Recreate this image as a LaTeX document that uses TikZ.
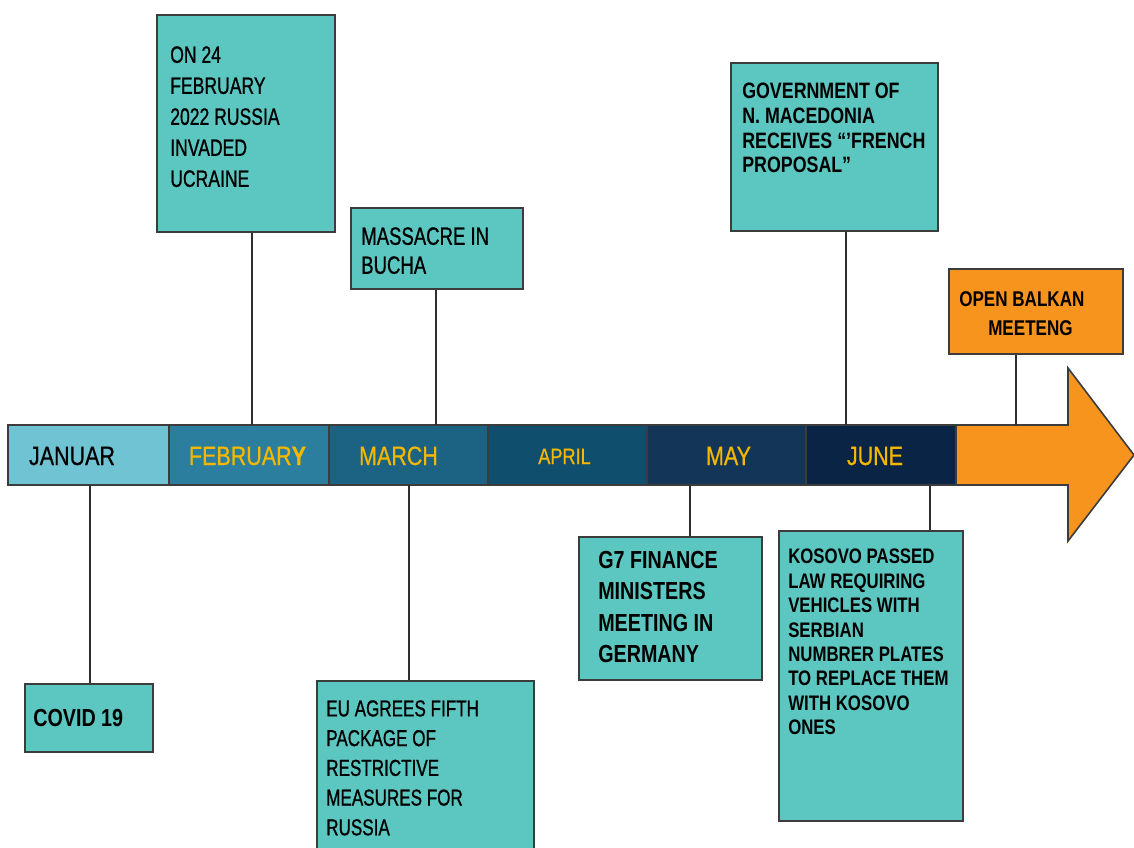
\documentclass[tikz,border=0pt]{standalone}
\usepackage{fontspec}
\newfontfamily\fr[FakeStretch=0.74,FakeBold=0.8]{Liberation Sans}
\newfontfamily\fb[FakeStretch=0.80]{Liberation Sans}
\newfontfamily\fm[FakeStretch=0.81,FakeBold=0.6]{Liberation Sans}
\usetikzlibrary{fit}
\definecolor{tealbox}{HTML}{5CC6C0}
\definecolor{edge}{HTML}{3C3C3C}
\definecolor{lineclr}{HTML}{2E2E2E}
\definecolor{cjan}{HTML}{70C3D3}
\definecolor{cfeb}{HTML}{2B7E9D}
\definecolor{cmar}{HTML}{1C6282}
\definecolor{capr}{HTML}{0F4E6C}
\definecolor{cmay}{HTML}{133557}
\definecolor{cjun}{HTML}{0A2446}
\definecolor{orng}{HTML}{F7941E}
\definecolor{gold}{HTML}{F6B700}
\begin{document}
\begin{tikzpicture}[x=0.75pt,y=-0.75pt,
  box/.style={draw=edge, line width=1.5pt, fill=tealbox, inner sep=0pt},
  obox/.style={box, fill=orng},
  seg/.style={draw=edge, line width=1.2pt, inner sep=0pt},
  conn/.style={draw=lineclr, line width=1.2pt},
  txt/.style={anchor=north west, inner sep=0pt, align=left, text=black},
  mon/.style={anchor=base, inner sep=0pt, text=gold, font=\fm\fontsize{19.9}{24}\selectfont}
]
\useasboundingbox (0,0) rectangle (1134,847);

% timeline segments
\node[seg, fill=cjan, fit={(8,425) (169,485)}] (jan) {};
\node[seg, fill=cfeb, fit={(169,425) (329,485)}] (feb) {};
\node[seg, fill=cmar, fit={(329,425) (488,485)}] (mar) {};
\node[seg, fill=capr, fit={(488,425) (647,485)}] (apr) {};
\node[seg, fill=cmay, fit={(647,425) (806,485)}] (may) {};
\node[seg, fill=cjun, fit={(806,425) (956,485)}] (jun) {};
\draw[draw=edge, line width=1.2pt, fill=orng] (956,425) -- (1068,425) -- (1068,368) -- (1134,455) -- (1068,541) -- (1068,485) -- (956,485) -- cycle;

\node[mon, text=black] (tjan) at (72,465) {JANUAR};
\node[mon] (tfeb) at (247.5,465) {FEBRUAR\textbf{Y}};
\node[mon] (tmar) at (398.5,465) {MARCH};
\node[mon, font=\fm\fontsize{16.8}{20}\selectfont] (tapr) at (564.5,464) {APRIL};
\node[mon] (tmay) at (728.5,465) {MAY};
\node[mon] (tjun) at (875,465) {JUNE};

% connection points on the bar
\coordinate (p1) at (252,425);
\coordinate (p2) at (436,425);
\coordinate (p3) at (846,425);
\coordinate (p4) at (1016,425);
\coordinate (p5) at (90,485);
\coordinate (p6) at (409,485);
\coordinate (p7) at (690,485);
\coordinate (p8) at (930,485);

% boxes
\node[box, fit={(157,15) (335,232)}] (b1) {};
\node[box, fit={(351,208) (523,289)}] (b2) {};
\node[box, fit={(731,63) (938,231)}] (b3) {};
\node[obox, fit={(949,269) (1123,354)}] (b4) {};
\node[box, fit={(25,684) (153,752)}] (b5) {};
\node[box, fit={(317,681) (534,862)}] (b6) {};
\node[box, fit={(579,537) (762,680)}] (b7) {};
\node[box, fit={(779,531) (963,821)}] (b8) {};

% connectors
\draw[conn] (b1.south -| p1) -- (p1);
\draw[conn] (b2.south -| p2) -- (p2);
\draw[conn] (b3.south -| p3) -- (p3);
\draw[conn] (b4.south -| p4) -- (p4);
\draw[conn] (p5) -- (b5.north -| p5);
\draw[conn] (p6) -- (b6.north -| p6);
\draw[conn] (p7) -- (b7.north -| p7);
\draw[conn] (p8) -- (b8.north -| p8);

% texts
\node[txt, font=\fr\fontsize{17.8}{23.25}\selectfont] (t1) at (170,46) {ON 24\\FEBRUARY\\2022 RUSSIA\\INVADED\\UCRAINE};
\node[txt, font=\fr\fontsize{18.8}{21.75}\selectfont] (t2) at (361,227) {MASSACRE IN\\BUCHA};
\node[txt, font=\fb\bfseries\fontsize{16.7}{18.5}\selectfont] (t3) at (742,83) {GOVERNMENT OF\\N. MACEDONIA\\RECEIVES “’FRENCH\\PROPOSAL”};
\node[txt, font=\fb\bfseries\fontsize{16}{21.75}\selectfont] (t4) at (959,291) {OPEN BALKAN\\\hspace*{21.75pt}MEETENG};
\node[txt, font=\fb\bfseries\fontsize{18.5}{23.5}\selectfont] (t5) at (33,709) {COVID 19};
\node[txt, font=\fr\fontsize{17.3}{22.3}\selectfont] (t6) at (326,700) {EU AGREES FIFTH\\PACKAGE OF\\RESTRICTIVE\\MEASURES FOR\\RUSSIA};
\node[txt, font=\fb\bfseries\fontsize{18.5}{23.5}\selectfont] (t7) at (598,551) {G7 FINANCE\\MINISTERS\\MEETING IN\\GERMANY};
\node[txt, font=\fb\bfseries\fontsize{15.75}{18.3}\selectfont] (t8) at (788,549) {KOSOVO PASSED\\LAW REQUIRING\\VEHICLES WITH\\SERBIAN\\NUMBRER PLATES\\TO REPLACE THEM\\WITH KOSOVO\\ONES};
\end{tikzpicture}
\end{document}
